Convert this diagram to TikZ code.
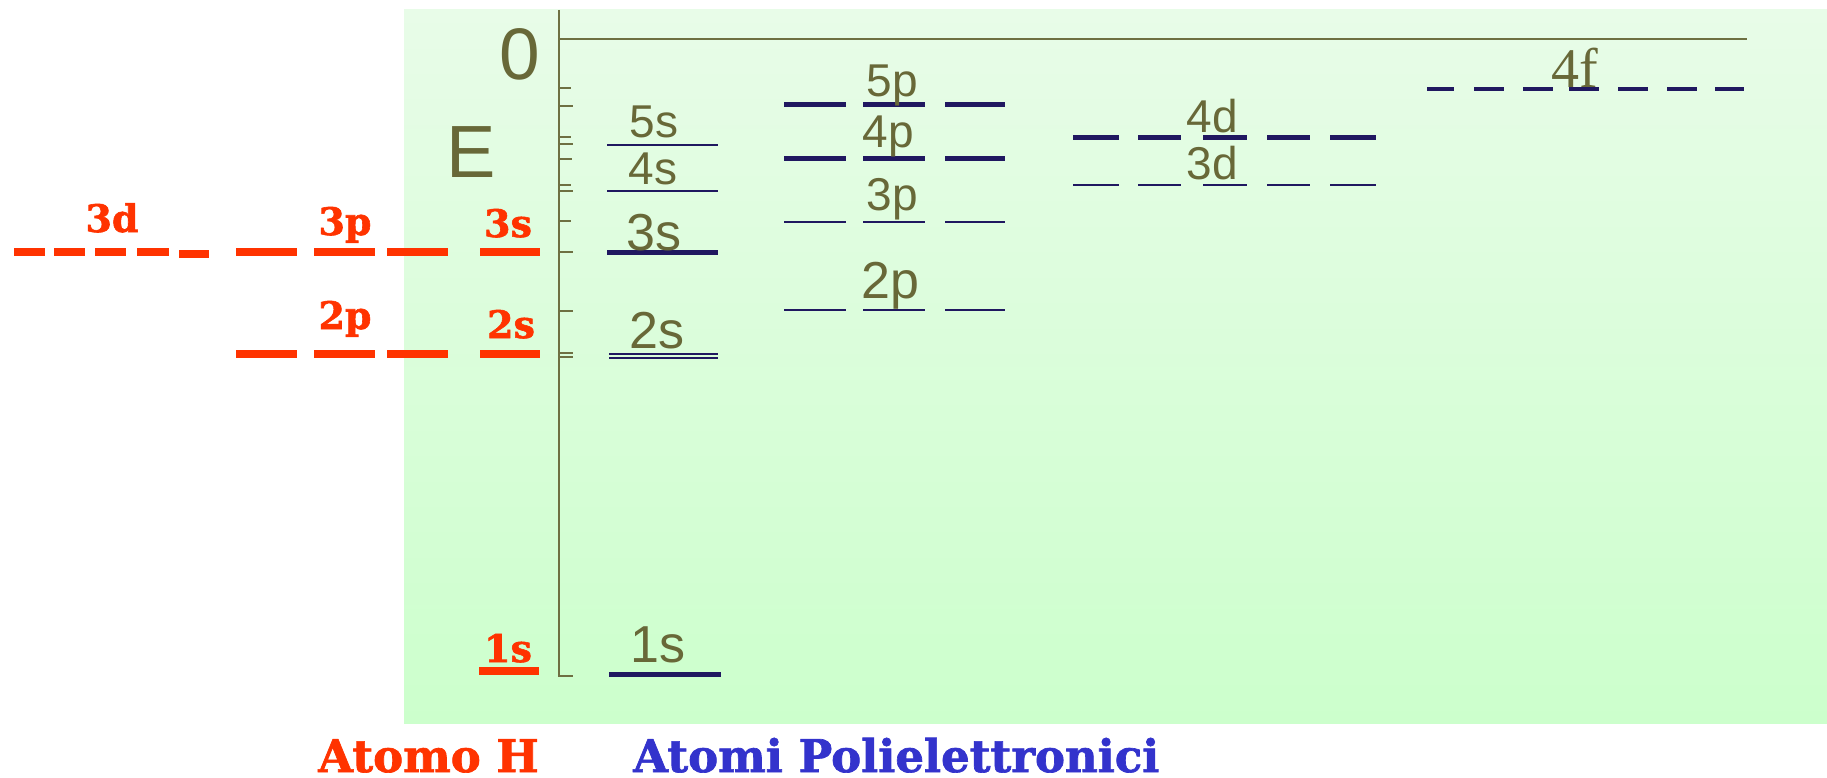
\documentclass[tikz,border=0pt]{standalone}
\usepackage{fontspec}
\usepackage{graphicx}
\setmainfont{Liberation Sans}
\newfontfamily\slabfont{DejaVu Serif}[BoldFeatures={FakeBold=1.5}]
\newfontfamily\tmsfont{Liberation Serif}
\definecolor{olv}{RGB}{104,104,56}
\definecolor{lvl}{RGB}{32,24,96}
\definecolor{hred}{RGB}{255,51,0}
\definecolor{pblue}{RGB}{51,51,204}
\definecolor{axc}{RGB}{110,112,66}
\definecolor{gtop}{RGB}{232,252,232}
\definecolor{gbot}{RGB}{204,255,204}
\begin{document}
\begin{tikzpicture}[x=1pt,y=-1pt,
  lab/.style={font=\fontsize{46}{46}\selectfont, text=olv, inner sep=0pt, anchor=base},
  labbig/.style={lab, font=\fontsize{52}{52}\selectfont},
  hlab/.style={font=\slabfont\bfseries\fontsize{38}{38}\selectfont, text=hred, inner sep=0pt, anchor=base},
  title/.style={font=\slabfont\bfseries\fontsize{45}{45}\selectfont, inner sep=0pt, anchor=base west},
  thicklvl/.style={draw=lvl, line width=5pt},
  thinlvl/.style={draw=lvl, line width=2.5pt},
  hairlvl/.style={draw=lvl, line width=1.5pt},
  hlvl/.style={draw=hred, line width=8pt},
  axisline/.style={draw=axc, line width=2.8pt},
  tick/.style={draw=axc, line width=2pt},
]
\useasboundingbox (0,0) rectangle (1827,778);
% background
\shade[top color=gtop, bottom color=gbot] (404,10) rectangle (1827,723);

% axes
\draw[axisline] (559,10) -- (559,676) -- (573,676);
\draw[axisline] (559,39) -- (1747,39);
\foreach \yy/\xx in {88/571,106/573,137/571,144/573,159/572,185/571,191/573,221/571,252/573,311/573,353/573,357/573}
  \draw[tick] (559,\yy) -- (\xx,\yy);
\node[lab, font=\fontsize{73}{73}\selectfont] (zero) at (520,80) {0};
\node[lab, font=\fontsize{74}{74}\selectfont] (E) at (471,178) {E};

% s levels
\draw[thinlvl] (607,145) -- (718,145);
\draw[thinlvl] (607,191) -- (718,191);
\draw[thicklvl] (607,252) -- (718,252);
\draw[hairlvl] (609,354) -- (718,354);
\draw[hairlvl] (609,358) -- (718,358);
\draw[thicklvl] (609,674) -- (721,674);
\node[lab] (s5) at (654,138) {5s};
\node[lab] (s4) at (653,185) {4s};
\node[labbig] (s3) at (654,250) {3s};
\node[labbig] (s2) at (657,348) {2s};
\node[labbig] (s1) at (658,662) {1s};

% p levels
\foreach \yy/\st in {105/thicklvl,159/thicklvl,222/thinlvl,310/thinlvl}{
  \draw[\st] (784,\yy) -- (846,\yy);
  \draw[\st] (863,\yy) -- (925,\yy);
  \draw[\st] (945,\yy) -- (1005,\yy);
}
\node[lab] (p5) at (892,97) {5p};
\node[lab] (p4) at (888,148) {4p};
\node[lab] (p3) at (892,210) {3p};
\node[labbig] (p2) at (890,298) {2p};

% d levels
\foreach \yy/\st in {138/thicklvl,185/thinlvl}{
  \foreach \a/\b in {1073/1119,1138/1181,1203/1247,1267/1310,1330/1376}
    \draw[\st] (\a,\yy) -- (\b,\yy);
}
\node[lab] (d4) at (1212,133) {4d};
\node[lab] (d3) at (1212,180) {3d};

% f level
\foreach \a/\b in {1427/1454,1474/1504,1523/1553,1569/1599,1618/1648,1667/1697,1715/1744}
  \draw[draw=lvl, line width=4pt] (\a,89) -- (\b,89);
\node[lab, font=\tmsfont\fontsize{56}{56}\selectfont] (f4) at (1575,88) {4f};

% hydrogen levels
\foreach \a/\b/\yy in {14/45/252,54/85/252,95/126/252,137/169/252,179/209/253.5}
  \draw[hlvl] (\a,\yy) -- (\b,\yy);
\foreach \yy in {252,354}{
  \draw[hlvl] (236,\yy) -- (297,\yy);
  \draw[hlvl] (314,\yy) -- (375,\yy);
  \draw[hlvl] (387,\yy) -- (448,\yy);
  \draw[hlvl] (480,\yy) -- (540,\yy);
}
\draw[hlvl] (479,671) -- (539,671);
\node[hlab] (h3d) at (112,232) {3d};
\node[hlab] (h3p) at (345,235) {3p};
\node[hlab] (h3s) at (508,237) {3s};
\node[hlab] (h2p) at (345,329) {2p};
\node[hlab] (h2s) at (511,338) {2s};
\node[hlab] (h1s) at (508,662) {1s};

% titles
\node[title, text=hred] (tH) at (318,772) {Atomo H};
\node[title, text=pblue] (tP) at (633,772) {Atomi Polielettronici};
\end{tikzpicture}
\end{document}
